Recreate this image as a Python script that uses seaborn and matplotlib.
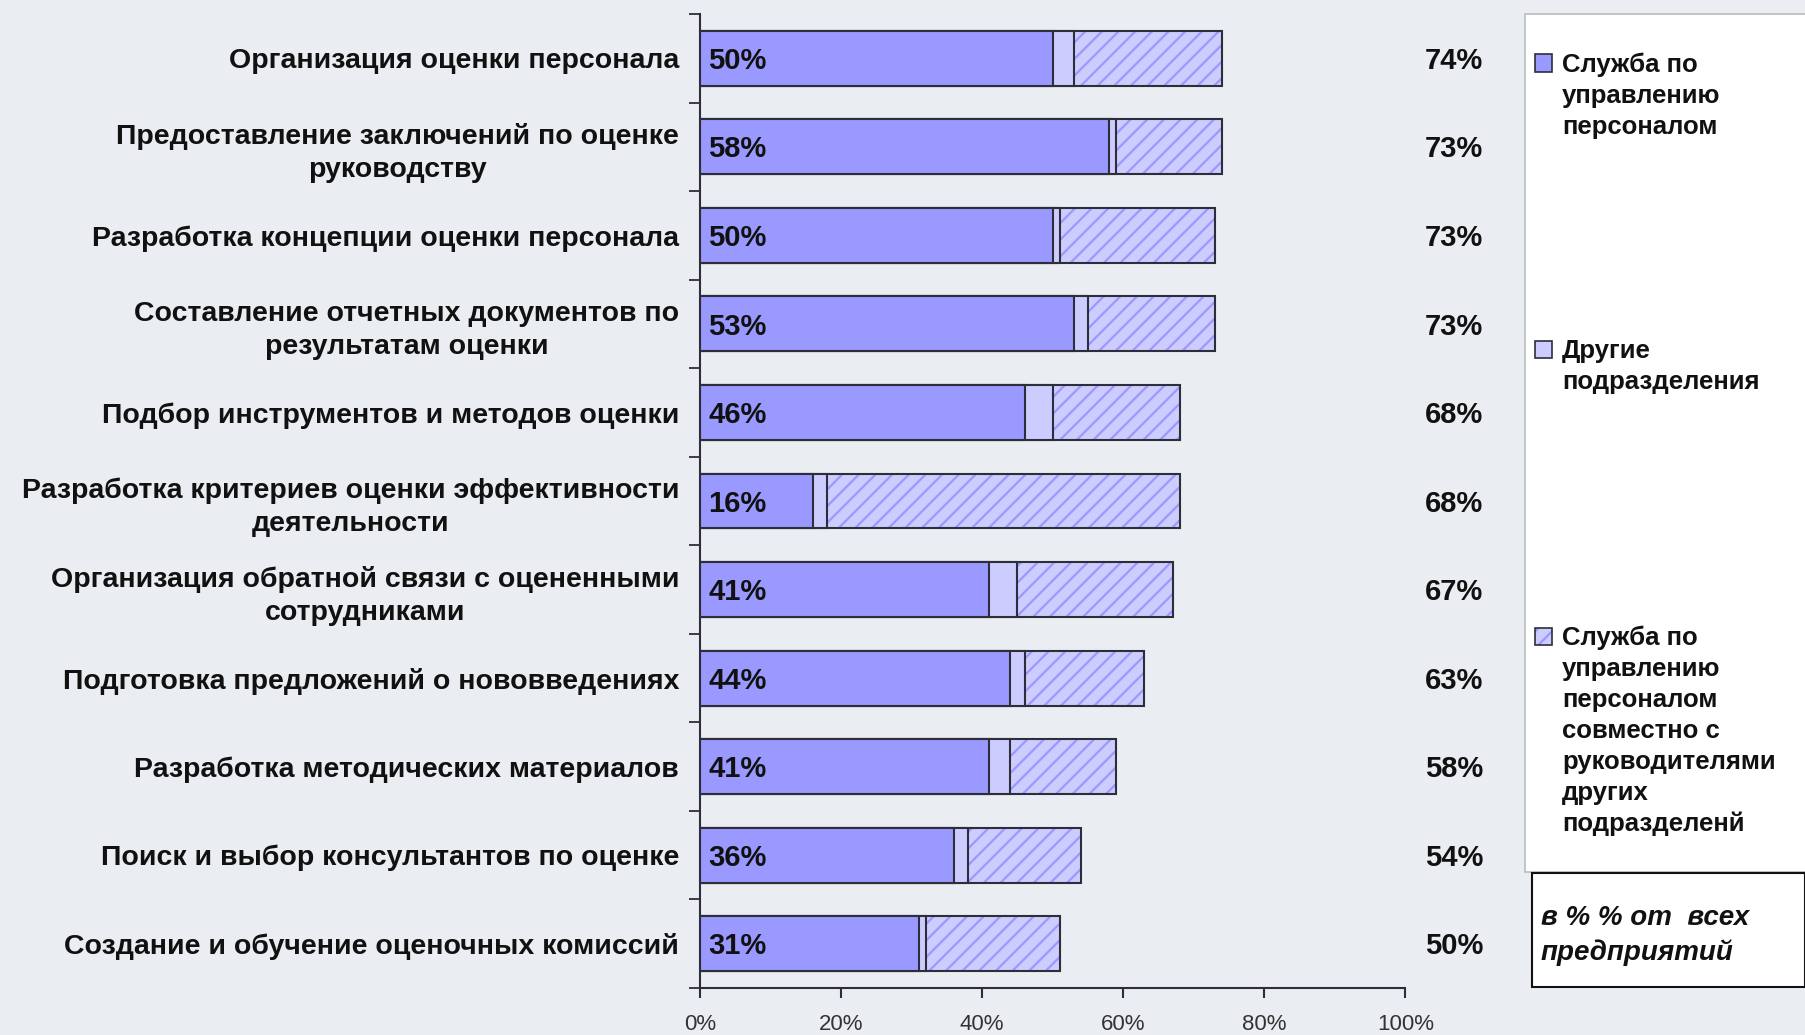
import matplotlib
matplotlib.use("Agg")
import matplotlib.pyplot as plt
from matplotlib.patches import Rectangle
import seaborn as sns
import pandas as pd
import numpy as np

# ---------------- data ----------------
categories = [
    "Организация оценки персонала",
    "Предоставление заключений по оценке\nруководству",
    "Разработка концепции оценки персонала",
    "Составление отчетных документов по\nрезультатам оценки",
    "Подбор инструментов и методов оценки",
    "Разработка критериев оценки эффективности\nдеятельности",
    "Организация обратной связи с оцененными\nсотрудниками",
    "Подготовка предложений о нововведениях",
    "Разработка методических материалов",
    "Поиск и выбор консультантов по оценке",
    "Создание и обучение оценочных комиссий",
]
hr_service = [50, 58, 50, 53, 46, 16, 41, 44, 41, 36, 31]
other_units = [3, 1, 1, 2, 4, 2, 4, 2, 3, 2, 1]
joint_work = [21, 15, 22, 18, 18, 50, 22, 17, 15, 16, 19]
total_labels = [74, 73, 73, 73, 68, 68, 67, 63, 58, 54, 50]

series_names = [
    "Служба по\nуправлению\nперсоналом",
    "Другие\nподразделения",
    "Служба по\nуправлению\nперсоналом\nсовместно с\nруководителями\nдругих\nподразделенй",
]
x_ticks = [0, 20, 40, 60, 80, 100]
x_tick_labels = ["0%", "20%", "40%", "60%", "80%", "100%"]
note_text = "в % % от  всех\nпредприятий"

# ---------------- style ----------------
sns.set_theme(style="white")
plt.rcParams["font.family"] = ["Liberation Sans", "DejaVu Sans"]
plt.rcParams["hatch.linewidth"] = 1.6

BG = "#EAEDF1"
C1 = "#9999FF"
C2 = "#CCCCFF"
EDGE = "#2E2E3A"

df = pd.DataFrame({"cat": categories, "hr": hr_service,
                   "other": other_units, "joint": joint_work})
df["s12"] = df["hr"] + df["other"]
df["total"] = df["s12"] + df["joint"]

FW, FH = 1806, 1035
fig = plt.figure(figsize=(FW / 100, FH / 100), dpi=100, facecolor=BG)
ax = fig.add_axes([700 / FW, 1 - 988 / FH, 705.5 / FW, (988 - 14) / FH])
ax.set_facecolor(BG)

W = 0.62
common = dict(y="cat", order=categories, orient="h", width=W,
              saturation=1, errorbar=None, ax=ax)
# hatched total (hatch colour comes from edgecolor)
sns.barplot(data=df, x="total", color=C2, edgecolor=C1, linewidth=0,
            hatch="//", **common)
# outline of total
sns.barplot(data=df, x="total", fill=False, edgecolor=EDGE, linewidth=1.5,
            **common)
# other units segment (cumulative)
sns.barplot(data=df, x="s12", color=C2, edgecolor=EDGE, linewidth=1.5,
            **common)
# HR service segment
sns.barplot(data=df, x="hr", color=C1, edgecolor=EDGE, linewidth=1.5,
            **common)

n = len(categories)
ax.set_xlim(0, 100)
ax.set_ylim(n - 0.5, -0.5)
ax.set_xlabel("")
ax.set_ylabel("")

# value labels
for i, v in enumerate(hr_service):
    ax.text(1.2, i + 0.03, f"{v}%", ha="left", va="center", fontsize=21,
            fontweight="bold", color="#111111")
for i, t in enumerate(total_labels):
    ax.text(111, i + 0.03, f"{t}%", ha="right", va="center", fontsize=21,
            fontweight="bold", color="#111111", clip_on=False)

# axes, ticks
ax.set_yticks(range(n))
ax.set_yticklabels(categories, fontsize=20.5, fontweight="bold",
                   linespacing=1.33, multialignment="center", color="#111111")
ax.set_yticks(np.arange(-0.5, n, 1), minor=True)
ax.tick_params(axis="y", which="major", length=0, pad=15)
ax.tick_params(axis="y", which="minor", length=8, width=1.3, color=EDGE,
               direction="out", left=True)
ax.set_xticks(x_ticks)
ax.set_xticklabels(x_tick_labels)
ax.tick_params(axis="x", which="major", length=7, width=1.5, color=EDGE,
               direction="out", bottom=True, pad=12, labelsize=16,
               labelcolor="#333333")
for s in ["top", "right"]:
    ax.spines[s].set_visible(False)
for s in ["left", "bottom"]:
    ax.spines[s].set_color(EDGE)
    ax.spines[s].set_linewidth(1.5)

# ---------------- legend box (manual) ----------------
def fx(px):
    return px / FW

def fy(py):
    return 1 - py / FH

fig.add_artist(Rectangle((fx(1525), fy(872)), fx(300), (872 - 14) / FH,
                         transform=fig.transFigure, facecolor="white",
                         edgecolor="#BBBBBB", linewidth=1.2))
line_centers = [63, 349, 636]
faces = [C1, C2, C2]
hatches = [None, None, "//"]
sq = 17
for name, yc, fc, h in zip(series_names, line_centers, faces, hatches):
    x0, y0 = fx(1535), fy(yc + sq / 2)
    fig.add_artist(Rectangle((x0, y0), sq / FW, sq / FH,
                             transform=fig.transFigure, facecolor=fc,
                             edgecolor=EDGE if h is None else C1,
                             linewidth=1.2 if h is None else 0, hatch=h))
    if h is not None:
        fig.add_artist(Rectangle((x0, y0), sq / FW, sq / FH,
                                 transform=fig.transFigure, facecolor="none",
                                 edgecolor=EDGE, linewidth=1.2))
    fig.text(fx(1562), fy(yc - 10), name, ha="left", va="top", fontsize=18.5,
             fontweight="bold", linespacing=1.36, color="#111111")

# note box
fig.add_artist(Rectangle((fx(1532), fy(987)), fx(273), (987 - 873) / FH,
                         transform=fig.transFigure, facecolor="white",
                         edgecolor="#111111", linewidth=1.5))
fig.text(fx(1541), fy(905), note_text, ha="left", va="top", fontsize=20,
         fontweight="bold", fontstyle="italic", linespacing=1.38,
         color="#111111")

fig.savefig("out.png", dpi=100, facecolor=BG)
